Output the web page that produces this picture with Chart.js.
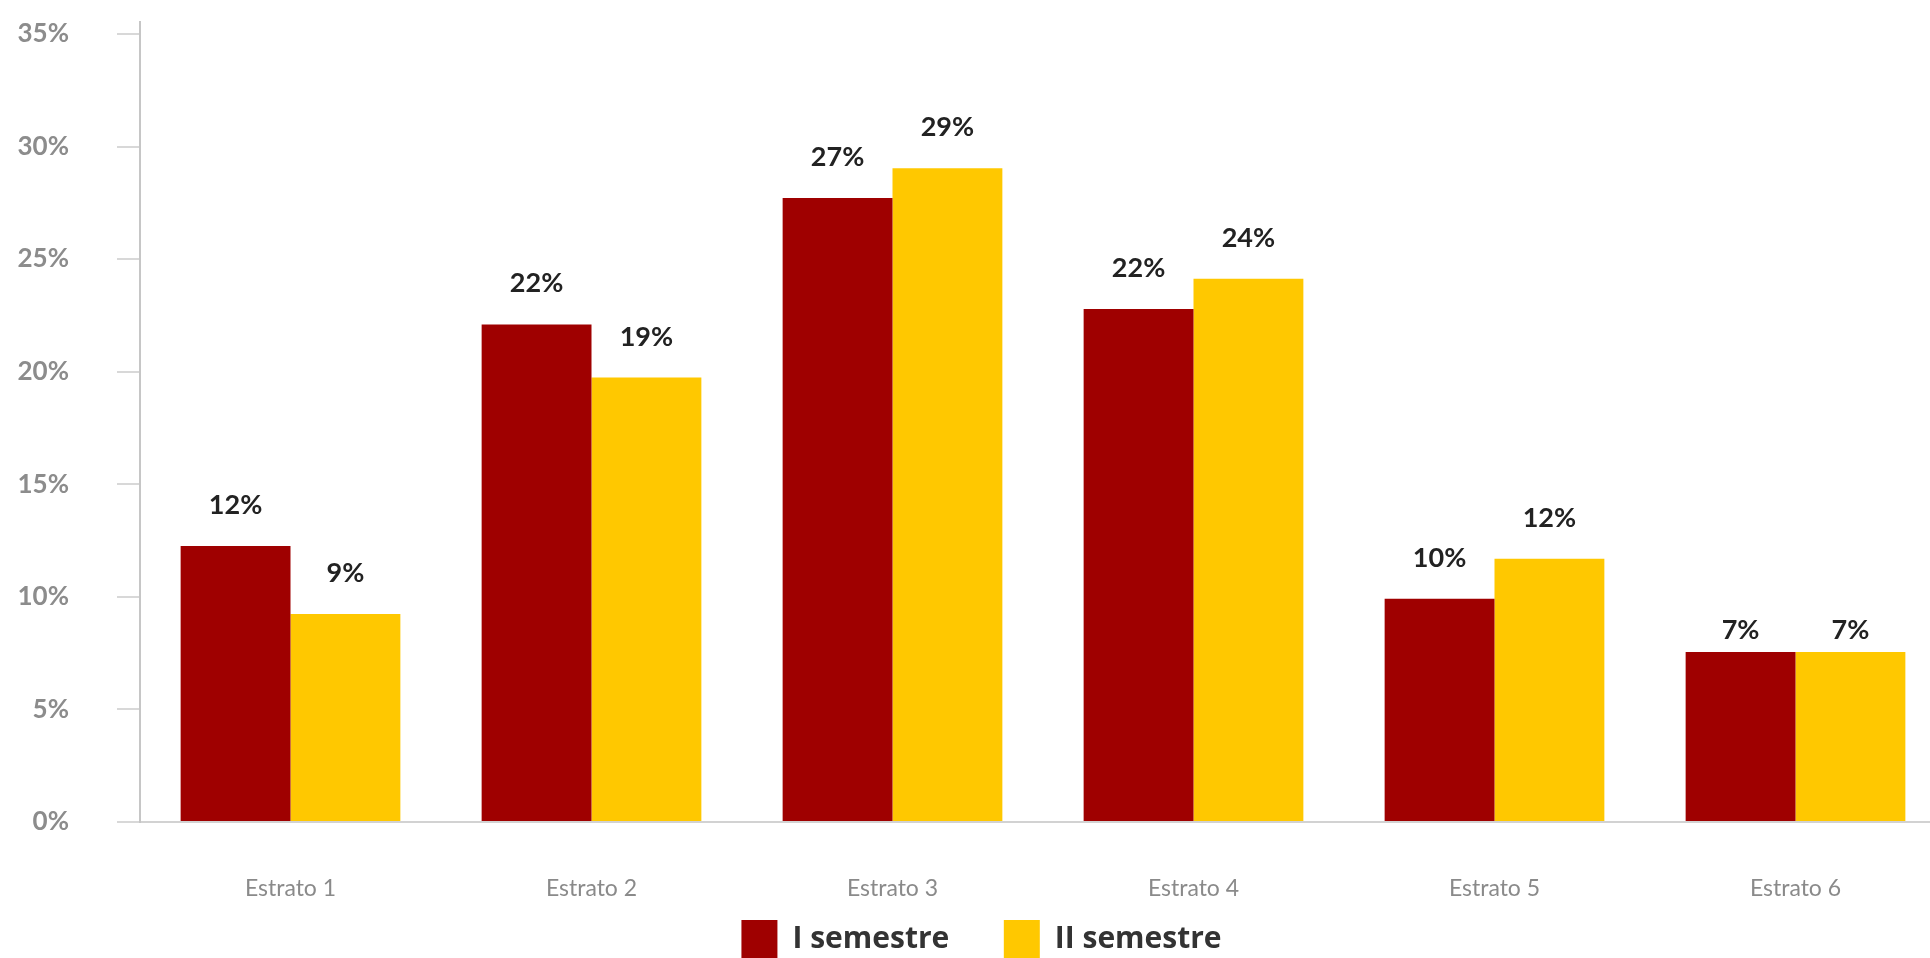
<!DOCTYPE html>
<html>
<head>
<meta charset="utf-8">
<script src="https://cdn.jsdelivr.net/npm/chart.js@4.4.1/dist/chart.umd.min.js"></script>
<style>
  html, body { margin: 0; padding: 0; background: #ffffff; overflow: hidden; }
  #wrap { position: absolute; left: 0; top: 0; width: 1946px; height: 968px; }
</style>
</head>
<body>
<div id="wrap"><canvas id="chart" width="1946" height="968"></canvas></div>
<script>
const categories = ['Estrato 1', 'Estrato 2', 'Estrato 3', 'Estrato 4', 'Estrato 5', 'Estrato 6'];
const seriesNames = ['I semestre', 'II semestre'];
const semestre1 = [12.26, 22.10, 27.71, 22.78, 9.91, 7.55];
const semestre2 = [9.24, 19.74, 29.04, 24.13, 11.69, 7.55];
const labels1 = ['12%', '22%', '27%', '22%', '10%', '7%'];
const labels2 = ['9%', '19%', '29%', '24%', '12%', '7%'];
const yTicks = [0, 5, 10, 15, 20, 25, 30, 35];

const FONT = 'Lato, "Open Sans", sans-serif';
const LEGEND_FONT = '"Open Sans", Lato, sans-serif';

const valueLabels = {
  id: 'valueLabels',
  afterDatasetsDraw(chart) {
    const ctx = chart.ctx;
    const texts = [labels1, labels2];
    ctx.save();
    ctx.font = 'bold 27px ' + FONT;
    ctx.fillStyle = '#222222';
    ctx.textAlign = 'center';
    ctx.textBaseline = 'alphabetic';
    chart.data.datasets.forEach((ds, di) => {
      const meta = chart.getDatasetMeta(di);
      meta.data.forEach((bar, i) => {
        const gap = i === 5 ? 13 : 32;
        ctx.fillText(texts[di][i], bar.x, bar.y - gap);
      });
    });
    ctx.restore();
  }
};

new Chart(document.getElementById('chart'), {
  type: 'bar',
  data: {
    labels: categories,
    datasets: [
      { label: seriesNames[0], data: semestre1, backgroundColor: '#9f0000', borderWidth: 0,
        categoryPercentage: 0.73, barPercentage: 1.0 },
      { label: seriesNames[1], data: semestre2, backgroundColor: '#ffc800', borderWidth: 0,
        categoryPercentage: 0.73, barPercentage: 1.0 }
    ]
  },
  options: {
    responsive: false,
    animation: false,
    devicePixelRatio: 1,
    layout: { padding: { top: 22, left: 17, right: 0, bottom: 0 } },
    plugins: {
      tooltip: { enabled: false },
      legend: {
        display: true,
        position: 'bottom',
        labels: {
          boxWidth: 36,
          boxHeight: 38,
          padding: 0,
          color: '#333333',
          font: { family: LEGEND_FONT, size: 30, weight: 'bold' },
          generateLabels(chart) {
            const items = Chart.defaults.plugins.legend.labels.generateLabels(chart);
            items.forEach((it, i) => {
              if (i < items.length - 1) it.text = it.text + '\u00A0\u00A0\u00A0\u00A0\u00A0\u00A0\u00A0';
            });
            return items;
          }
        }
      }
    },
    scales: {
      x: {
        grid: { display: false, drawTicks: false },
        border: { display: true, color: '#d2d2d2', width: 2 },
        ticks: {
          padding: 53,
          color: '#8a8a8a',
          font: { family: FONT, size: 23 }
        },
        afterFit(scale) { scale.height = 98; scale.paddingLeft = 0; scale.paddingRight = 0; }
      },
      y: {
        min: 0,
        max: 35.53,
        afterBuildTicks(scale) { scale.ticks = yTicks.map(v => ({ value: v })); },
        grid: { display: true, drawOnChartArea: false, drawTicks: true, tickLength: 23, color: '#d8d8d8', lineWidth: 2 },
        border: { display: true, color: '#c6c6c6', width: 2 },
        ticks: {
          padding: 48,
          color: '#8c8c8c',
          font: { family: FONT, size: 26, weight: 'bold' },
          callback: (v) => v + '%'
        },
        afterFit(scale) { scale.width = 123; scale.paddingTop = 0; scale.paddingBottom = 0; }
      }
    }
  },
  plugins: [valueLabels]
});
</script>
</body>
</html>
